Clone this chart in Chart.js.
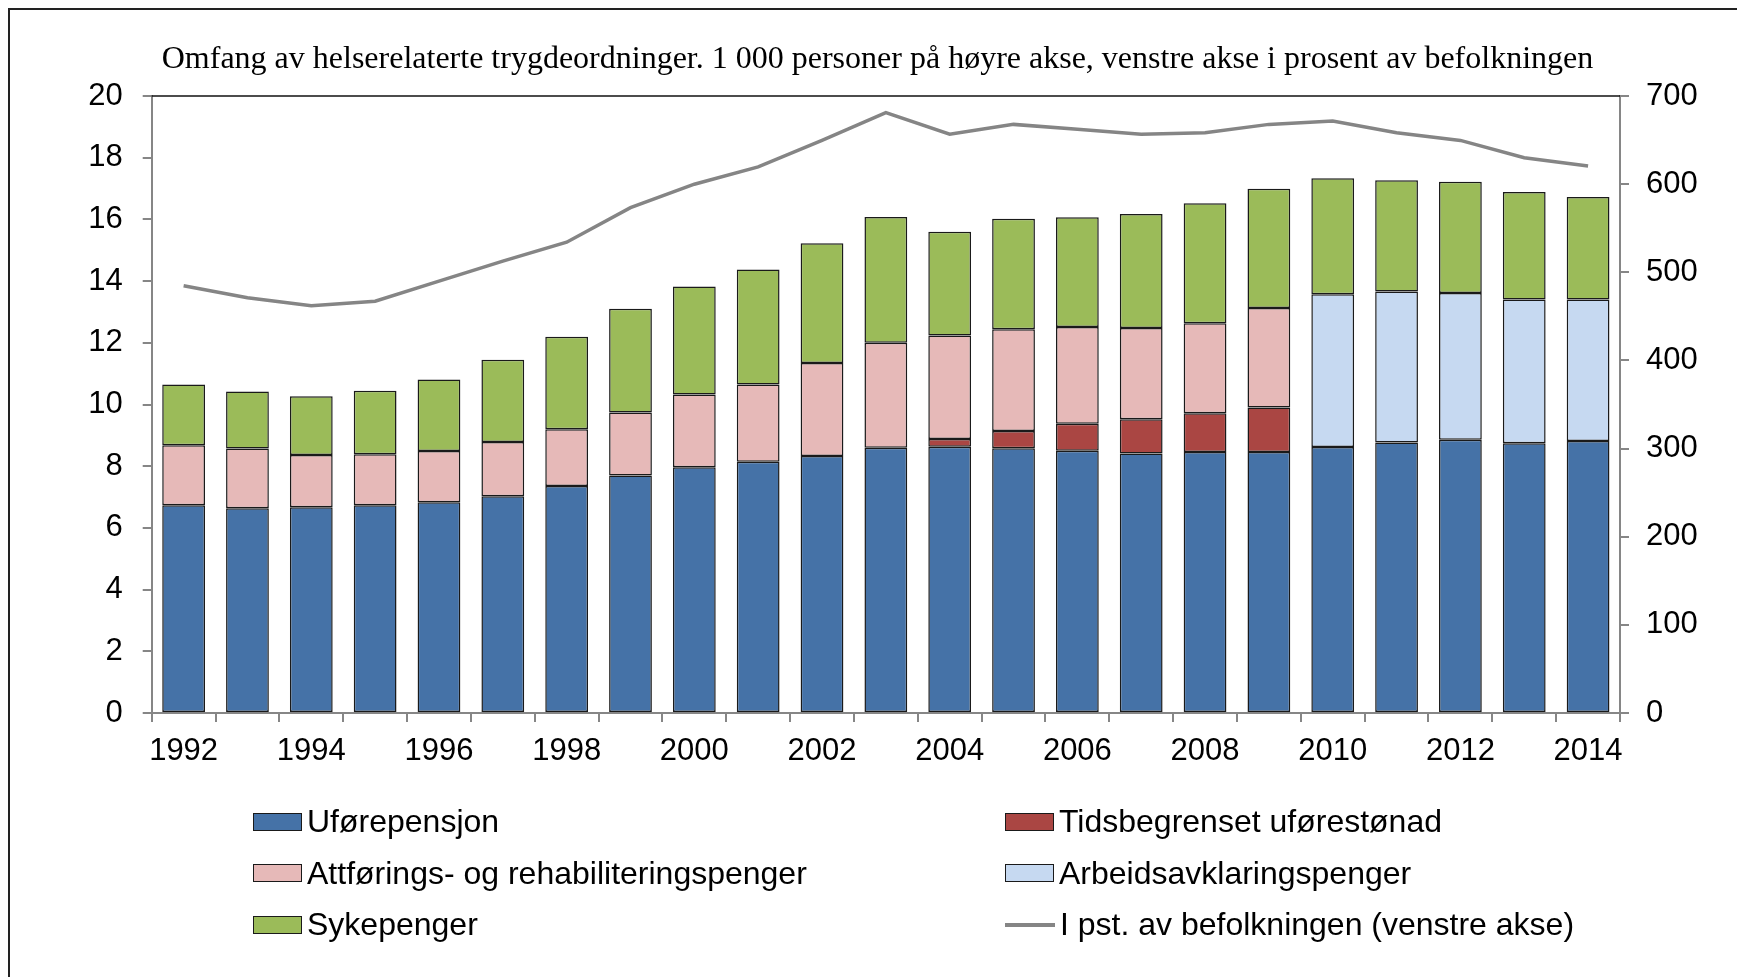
<!DOCTYPE html>
<html>
<head>
<meta charset="utf-8">
<title>Helserelaterte trygdeordninger</title>
<script src="https://cdn.jsdelivr.net/npm/chart.js@4.4.1/dist/chart.umd.min.js"></script>
<style>
  body { margin: 0; background: #fff; }
  #wrap { position: relative; width: 1737px; height: 977px; }
  #frame { position: absolute; left: 8px; top: 8px; right: 0; bottom: 0; border-top: 2px solid #222; border-left: 2px solid #222; pointer-events: none; }
  #legend { position: absolute; left: 253px; top: 796px; display: grid; grid-template-columns: 752px auto; font: 32px "Liberation Sans", Arial, sans-serif; color: #000; }
  .item { display: flex; align-items: center; height: 51.5px; white-space: nowrap; }
  .swatch { width: 47px; height: 16px; border: 1.5px solid #1a1a1a; margin-right: 5px; }
  .stroke { width: 50px; height: 4px; margin-right: 5px; }
</style>
</head>
<body>
<div id="wrap">
  <canvas id="trygd-chart" width="1737" height="977"></canvas>
  <div id="legend"></div>
  <div id="frame"></div>
</div>
<script>
/*----- data -----*/
const years = ['1992','1993','1994','1995','1996','1997','1998','1999','2000','2001','2002','2003',
  '2004','2005','2006','2007','2008','2009','2010','2011','2012','2013','2014']

// 1 000 personer (right axis)
const uforepensjon = [235.7, 232.2, 233.4, 235.6, 239.0, 245.9, 257.6, 269.5, 278.9, 285.0, 291.7, 300.8,
  302.0, 300.5, 297.4, 294.4, 296.0, 296.2, 301.9, 306.8, 310.0, 306.1, 308.7]
const tidsbegrenset = [null, null, null, null, null, null, null, null, null, null, null, null,
  9.0, 19.5, 30.7, 38.8, 44.1, 50.5, null, null, null, null, null]
const attforing = [68.1, 67.8, 59.3, 57.9, 58.3, 61.6, 64.3, 71.4, 82.5, 87.7, 105.3, 119.2,
  117.3, 115.4, 109.7, 103.6, 102.0, 112.7, null, null, null, null, null]
const arbeidsavklaring = [null, null, null, null, null, null, null, null, null, null, null, null,
  null, null, null, null, null, null, 173.1, 171.3, 166.6, 162.9, 160.3]
const sykepenger = [68.9, 64.8, 66.8, 72.0, 81.1, 93.2, 104.9, 117.7, 122.6, 130.6, 135.8, 142.7,
  117.7, 125.2, 124.5, 129.4, 136.3, 135.3, 131.6, 126.2, 126.2, 122.1, 116.4]

// prosent av befolkningen (left axis)
const andelBefolkning = [13.85, 13.46, 13.2, 13.35, 14.0, 14.65, 15.26, 16.38, 17.14, 17.7, 18.56, 19.46,
  18.76, 19.08, 18.92, 18.76, 18.81, 19.08, 19.19, 18.81, 18.56, 18.0, 17.73]

const titleText = 'Omfang av helserelaterte trygdeordninger. 1 000 personer på høyre akse, venstre akse i prosent av befolkningen'

/*----- styles -----*/
const axisGrey = '#868686'
const tickFont = { family: 'Liberation Sans', size: 31 }

const barSet = (label, data, color) => ({
  type: 'bar',
  label: label,
  data: data,
  backgroundColor: color,
  borderColor: '#1a1a1a',
  borderWidth: 1.5,
  borderSkipped: false,
  yAxisID: 'y1',
  stack: 'personer',
  order: 1,
  categoryPercentage: 1,
  barPercentage: 0.67
})

// black line along the top of the plot area
const plotTopLine = {
  id: 'plotTopLine',
  beforeDatasetsDraw(chart) {
    const { ctx, chartArea } = chart
    ctx.save()
    ctx.strokeStyle = '#111'
    ctx.lineWidth = 1.5
    ctx.beginPath()
    ctx.moveTo(chartArea.left, chartArea.top)
    ctx.lineTo(chartArea.right, chartArea.top)
    ctx.stroke()
    ctx.restore()
  }
}

/*----- chart -----*/
const trygdChart = new Chart(document.getElementById('trygd-chart'), {
  data: {
    labels: years,
    datasets: [
      barSet('Uførepensjon', uforepensjon, '#4572A7'),
      barSet('Tidsbegrenset uførestønad', tidsbegrenset, '#AA4643'),
      barSet('Attførings- og rehabiliteringspenger', attforing, '#E6B9B8'),
      barSet('Arbeidsavklaringspenger', arbeidsavklaring, '#C6D9F1'),
      barSet('Sykepenger', sykepenger, '#9BBB59'),
      {
        type: 'line',
        label: 'I pst. av befolkningen (venstre akse)',
        data: andelBefolkning,
        borderColor: '#858585',
        backgroundColor: '#858585',
        borderWidth: 3.5,
        pointRadius: 0,
        tension: 0,
        yAxisID: 'y',
        order: 0
      }
    ]
  },
  options: {
    responsive: false,
    animation: false,
    layout: { padding: { left: 18, right: 0, top: 0, bottom: 0 } },
    plugins: {
      legend: { display: false },
      tooltip: { enabled: false },
      title: {
        display: true,
        text: titleText,
        color: '#000',
        font: { family: 'Liberation Serif', size: 32, weight: 'normal' },
        padding: { top: 40, bottom: 17.6 }
      }
    },
    scales: {
      x: {
        stacked: true,
        grid: { offset: true, drawOnChartArea: false, tickLength: 9, color: axisGrey, lineWidth: 2 },
        border: { color: axisGrey, width: 2 },
        ticks: {
          autoSkip: false,
          maxRotation: 0,
          padding: 11,
          color: '#000',
          font: tickFont,
          callback: (value, index) => index % 2 === 0 ? years[index] : ''
        },
        afterFit: (scale) => { scale.height = 264 }
      },
      y: {
        position: 'left',
        min: 0,
        max: 20,
        grid: { drawOnChartArea: false, tickLength: 9, color: axisGrey, lineWidth: 2 },
        border: { color: axisGrey, width: 2 },
        ticks: { stepSize: 2, padding: 20, color: '#000', font: tickFont },
        afterFit: (scale) => { scale.width = 133.7 }
      },
      y1: {
        position: 'right',
        stacked: true,
        min: 0,
        max: 700,
        grid: { drawOnChartArea: false, tickLength: 9, color: axisGrey, lineWidth: 2 },
        border: { color: axisGrey, width: 2 },
        ticks: { stepSize: 100, padding: 17, color: '#000', font: tickFont },
        afterFit: (scale) => { scale.width = 117 }
      }
    }
  },
  plugins: [plotTopLine]
})

/*----- legend -----*/
const legendBox = document.querySelector('#legend')
trygdChart.data.datasets.forEach(ds => {
  const item = document.createElement('div')
  item.className = 'item'
  const mark = document.createElement('span')
  if (ds.type === 'line') {
    mark.className = 'stroke'
    mark.style.background = ds.borderColor
  } else {
    mark.className = 'swatch'
    mark.style.background = ds.backgroundColor
  }
  const text = document.createElement('span')
  text.textContent = ds.label
  item.appendChild(mark)
  item.appendChild(text)
  legendBox.appendChild(item)
})
</script>
</body>
</html>
